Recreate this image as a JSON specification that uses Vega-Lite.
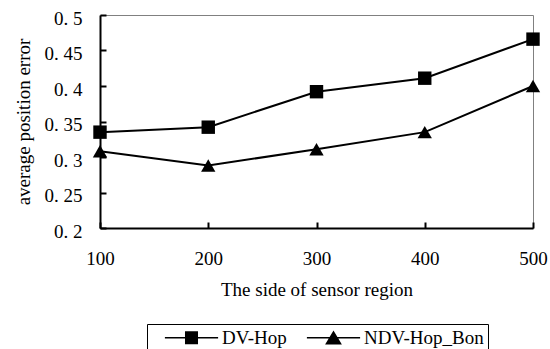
{
  "$schema": "https://vega.github.io/schema/vega-lite/v6.json",
  "autosize": "none",
  "width": 433,
  "height": 213,
  "padding": {"left": 100, "top": 15, "right": 17, "bottom": 121},
  "background": "white",
  "config": {
    "font": "Liberation Serif",
    "view": {"stroke": "#808080", "strokeWidth": 1},
    "axis": {
      "domainColor": "black",
      "domainWidth": 2,
      "tickColor": "black",
      "tickWidth": 2,
      "tickSize": -6,
      "grid": false,
      "labelFont": "Liberation Serif",
      "labelFontSize": 19,
      "labelColor": "black",
      "titleFont": "Liberation Serif",
      "titleFontSize": 19,
      "titleFontWeight": "normal",
      "titleColor": "black"
    },
    "legend": {
      "symbolStrokeColor": "black",
      "symbolStrokeWidth": 1.5,
      "symbolFillColor": "black"
    }
  },
  "data": {
    "values": [
      {"side": 100, "error": 0.335, "series": "DV-Hop"},
      {"side": 200, "error": 0.342, "series": "DV-Hop"},
      {"side": 300, "error": 0.392, "series": "DV-Hop"},
      {"side": 400, "error": 0.411, "series": "DV-Hop"},
      {"side": 500, "error": 0.466, "series": "DV-Hop"},
      {"side": 100, "error": 0.308, "series": "NDV-Hop_Bon"},
      {"side": 200, "error": 0.288, "series": "NDV-Hop_Bon"},
      {"side": 300, "error": 0.311, "series": "NDV-Hop_Bon"},
      {"side": 400, "error": 0.335, "series": "NDV-Hop_Bon"},
      {"side": 500, "error": 0.400, "series": "NDV-Hop_Bon"}
    ]
  },
  "encoding": {
    "x": {
      "field": "side",
      "type": "quantitative",
      "title": "The side of sensor region",
      "scale": {"domain": [100, 500], "nice": false, "zero": false},
      "axis": {"values": [100, 200, 300, 400, 500], "labelPadding": 27, "titlePadding": 12, "labelFlush": false}
    },
    "y": {
      "field": "error",
      "type": "quantitative",
      "title": "average position error",
      "scale": {"domain": [0.2, 0.5], "nice": false, "zero": false},
      "axis": {
        "values": [0.2, 0.25, 0.3, 0.35, 0.4, 0.45, 0.5],
        "format": ".2~f",
        "labelExpr": "replace(datum.label, '.', '. ')",
        "labelPadding": 24,
        "labelOffset": 3,
        "labelFlush": false,
        "titlePadding": 11
      }
    }
  },
  "layer": [
    {
      "mark": {"type": "line", "color": "black", "strokeWidth": 2},
      "encoding": {"detail": {"field": "series"}}
    },
    {
      "transform": [{"filter": "datum.series === 'DV-Hop'"}],
      "mark": {"type": "point", "shape": "square", "filled": true, "color": "black", "opacity": 1, "size": 180}
    },
    {
      "transform": [{"filter": "datum.series === 'NDV-Hop_Bon'"}],
      "mark": {"type": "point", "shape": "triangle-up", "filled": true, "color": "black", "opacity": 1, "size": 205}
    },
    {
      "mark": {"type": "point", "filled": true, "fill": "black", "opacity": 0},
      "encoding": {
        "shape": {
          "field": "series",
          "type": "nominal",
          "scale": {"domain": ["DV-Hop", "NDV-Hop_Bon"], "range": ["M-3.8,-0.11H3.8V0.11H-3.8ZM-0.93,-0.93H0.93V0.93H-0.93Z", "M-3.8,-0.11H3.8V0.11H-3.8ZM0,-1.05L1.2,0.95H-1.2Z"]},
          "legend": {
            "orient": "none",
            "legendX": 47,
            "legendY": 309,
            "direction": "horizontal",
            "title": null,
            "padding": 4,
            "strokeColor": "black",
            "columnPadding": 6,
            "symbolSize": 196,
            "symbolOffset": 31,
            "symbolOpacity": 1,
            "symbolFillColor": "black",
            "labelOffset": 21,
            "labelFontSize": 19,
            "labelFont": "Liberation Serif",
            "labelColor": "black"
          }
        }
      }
    }
  ]
}
